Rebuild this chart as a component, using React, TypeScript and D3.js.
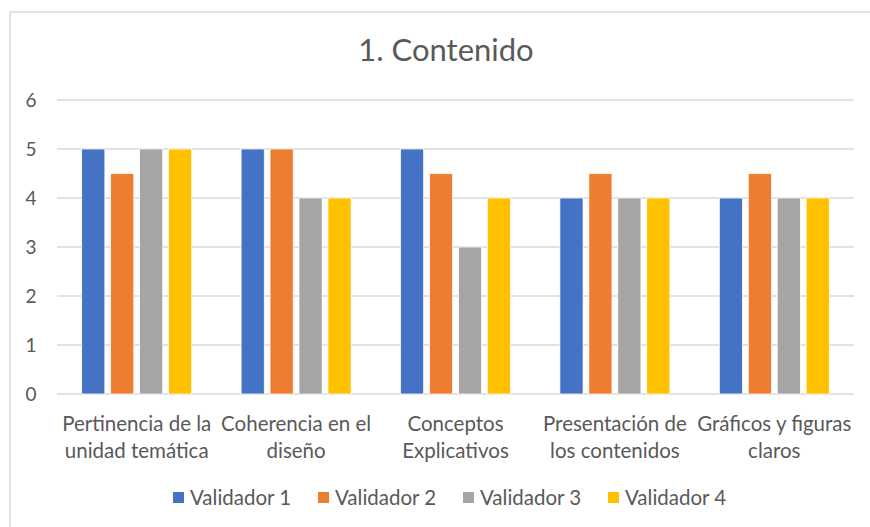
import React from "react";
import * as d3 from "d3";

const categories = [
  ["Pertinencia de la", "unidad temática"],
  ["Coherencia en el", "diseño"],
  ["Conceptos", "Explicativos"],
  ["Presentación de", "los contenidos"],
  ["Gráficos y figuras", "claros"],
];
const seriesNames = ["Validador 1", "Validador 2", "Validador 3", "Validador 4"];
const validador1 = [5, 5, 5, 4, 4];
const validador2 = [4.5, 5, 4.5, 4.5, 4.5];
const validador3 = [5, 4, 3, 4, 4];
const validador4 = [5, 4, 4, 4, 4];
const seriesValues = [validador1, validador2, validador3, validador4];
const colors = ["#4472C4", "#ED7D31", "#A5A5A5", "#FFC000"];
const yTicks = [0, 1, 2, 3, 4, 5, 6];
const title = "1. Contenido";

const W = 870;
const H = 527;
const FONT = "Lato, 'Open Sans', sans-serif";
const TEXT = "#595959";
const GRID = "#D9D9D9";

export default function App() {
  const left = 57;
  const right = 854;
  const x = d3
    .scaleBand<number>()
    .domain(categories.map((_, i) => i))
    .range([left, right])
    .paddingInner(0)
    .paddingOuter(0);
  const y = d3.scaleLinear().domain([0, 6]).range([394, 100]);
  const groupHalf = 55;
  const inner = d3
    .scaleBand<number>()
    .domain(seriesNames.map((_, i) => i))
    .range([-groupHalf, groupHalf])
    .paddingInner(0.2)
    .paddingOuter(0);

  const legendStart = 173;
  const legendStep = 145;

  return (
    <svg
      width={W}
      height={H}
      style={{ position: "absolute", left: 0, top: 0, background: "#fff" }}
      fontFamily={FONT}
    >
      <rect x={0} y={0} width={W} height={H} fill="#fff" />
      <rect x={10} y={12} width={W + 10} height={H + 20} fill="none" stroke={GRID} strokeWidth={1.5} />
      <text x={446} y={61} textAnchor="middle" fontSize={31} fill={TEXT}>
        {title}
      </text>
      {yTicks.map((t) => (
        <g key={t}>
          <line x1={left} x2={right} y1={y(t)} y2={y(t)} stroke={GRID} strokeWidth={1.5} />
          <text x={31} y={y(t) + 6.5} textAnchor="middle" fontSize={19} fill={TEXT}>
            {t}
          </text>
        </g>
      ))}
      {categories.map((c, ci) => {
        const cx = (x(ci) as number) + x.bandwidth() / 2;
        return (
          <g key={ci}>
            {seriesValues.map((vals, si) => (
              <rect
                key={si}
                x={cx + (inner(si) as number)}
                y={y(vals[ci])}
                width={inner.bandwidth()}
                height={y(0) - y(vals[ci])}
                fill={colors[si]}
                stroke="#fff"
                strokeWidth={0.75}
              />
            ))}
            {c.map((line, li) => (
              <text key={li} x={cx} y={431 + li * 27} textAnchor="middle" fontSize={20.5} fill={TEXT}>
                {line}
              </text>
            ))}
          </g>
        );
      })}
      {seriesNames.map((s, si) => {
        const lx = legendStart + si * legendStep;
        return (
          <g key={s}>
            <rect x={lx} y={492} width={11} height={11} fill={colors[si]} />
            <text x={lx + 17} y={504.5} fontSize={20.5} fill={TEXT}>
              {s}
            </text>
          </g>
        );
      })}
    </svg>
  );
}
